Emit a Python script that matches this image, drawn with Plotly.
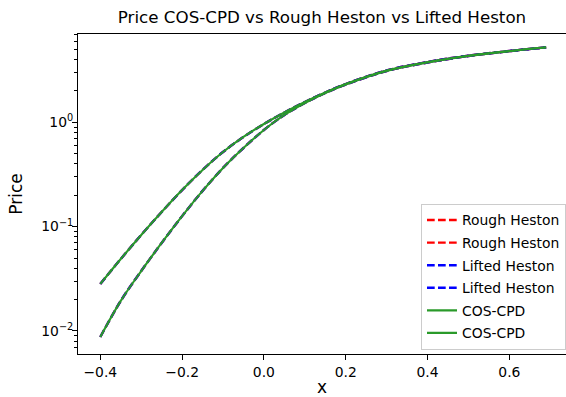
import plotly.graph_objects as go

# log-moneyness grid
x = [-0.40, -0.35, -0.30, -0.25, -0.20, -0.15, -0.10, -0.05, 0.00,
     0.05, 0.10, 0.15, 0.20, 0.30, 0.40, 0.50, 0.60, 0.69]

# prices (the three methods overlap to the pixel)
price_long = [0.0282, 0.0489, 0.0831, 0.138, 0.224, 0.349, 0.519, 0.723, 0.963,
              1.242, 1.565, 1.931, 2.329, 3.138, 3.785, 4.350, 4.826, 5.238]
price_short = [0.00874, 0.0194, 0.0375, 0.0697, 0.126, 0.220, 0.365, 0.567, 0.844,
               1.175, 1.531, 1.910, 2.303, 3.103, 3.744, 4.322, 4.806, 5.214]

rough_heston = [price_long, price_short]
lifted_heston = [price_long, price_short]
cos_cpd = [price_long, price_short]

x_ticks = [-0.4, -0.2, 0.0, 0.2, 0.4, 0.6]
x_ticktext = ['\u22120.4', '\u22120.2', '0.0', '0.2', '0.4', '0.6']
y_ticks = [0.01, 0.1, 1]
y_ticktext = ['10<sup>\u22122</sup>', '10<sup>\u22121</sup>', '10<sup>0</sup>']

fnt = 'DejaVu Sans'
fig = go.Figure()

k = 0
for name, series, color, dash, w in [('Rough Heston', rough_heston, '#ff0000', '7.7px,3.3px', 2.4),
                                     ('Lifted Heston', lifted_heston, '#0000ff', '7.7px,3.3px', 2.4),
                                     ('COS-CPD', cos_cpd, '#2a9a2a', 'solid', 2.1)]:
    for s in series:
        fig.add_trace(go.Scatter(x=x, y=s, mode='lines', name=name, legendgroup=str(k),
                                 line=dict(color=color, width=w, dash=dash, shape='spline')))
        k += 1

minor_vals = [m * 10 ** e for e in (-3, -2, -1, 0) for m in range(2, 10)]

fig.update_layout(
    width=566, height=397,
    margin=dict(l=78, r=0, t=34, b=43),
    paper_bgcolor='white', plot_bgcolor='white',
    font=dict(family=fnt, size=13.9, color='black'),
    title=dict(text='Price COS-CPD vs Rough Heston vs Lifted Heston', x=0.5, xref='paper',
               xanchor='center', y=1, yref='container', yanchor='top', pad=dict(t=11),
               font=dict(size=16.7, color='black')),
    legend=dict(x=1.0, y=0.014, xanchor='right', yanchor='bottom',
                bordercolor='#cccccc', borderwidth=1, bgcolor='rgba(255,255,255,0.8)',
                font=dict(size=13.9), tracegroupgap=1.5, itemwidth=30),
)
fig.update_xaxes(range=[-0.4545, 0.7385], tickvals=x_ticks, ticktext=x_ticktext,
                 showgrid=False, zeroline=False, showline=True, linecolor='black', linewidth=1,
                 mirror=True, ticks='outside', ticklen=5, tickcolor='black', automargin=False,
                 title=dict(text='x', standoff=11))
fig.update_yaxes(type='log', range=[-2.2215, 0.8466], tickvals=y_ticks, ticktext=y_ticktext,
                 showgrid=False, zeroline=False, showline=True, linecolor='black', linewidth=1,
                 ticks='outside', ticklen=5, tickcolor='black', automargin=False,
                 ticklabelstandoff=-4,
                 minor=dict(tickvals=minor_vals, ticks='outside', ticklen=3, tickcolor='black',
                            showgrid=False),
                 title=dict(text='Price', standoff=14))

# drop the page's default 8px body margin so the figure sits at the window corner
fig.write_html('out.html', config={'displayModeBar': False},
               post_script="document.body.style.margin='0';")
